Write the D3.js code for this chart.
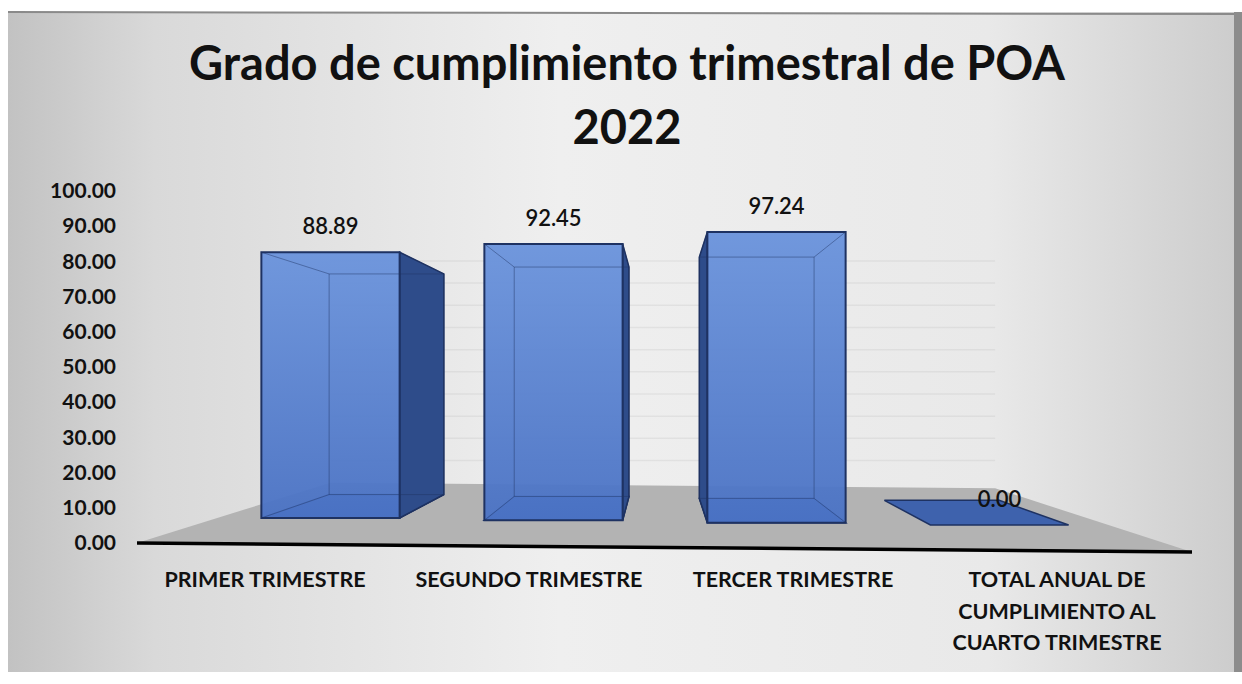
<!DOCTYPE html>
<html>
<head>
<meta charset="utf-8">
<script src="https://cdn.jsdelivr.net/npm/d3@7"></script>
<style>
  html, body { margin: 0; padding: 0; background: #fff; }
  svg { display: block; }
  text { font-family: Lato, "Open Sans", sans-serif; fill: #111; }
</style>
</head>
<body>
<div id="chart"></div>
<script>
const categories = ["PRIMER TRIMESTRE", "SEGUNDO TRIMESTRE", "TERCER TRIMESTRE", "TOTAL ANUAL"];
const categoryLines = [
    ["PRIMER TRIMESTRE"],
    ["SEGUNDO TRIMESTRE"],
    ["TERCER TRIMESTRE"],
    ["TOTAL ANUAL DE", "CUMPLIMIENTO AL", "CUARTO TRIMESTRE"]
];
const values = [88.89, 92.45, 97.24, 0.00];
const yTicks = [0, 10, 20, 30, 40, 50, 60, 70, 80, 90, 100];
const titleLines = ["Grado de cumplimiento trimestral de POA", "2022"];

function drawChart() {
    const W = 1242, H = 684;
    const VP = { x: 660, y: 380 };   // vanishing point of the photo perspective
    const DEPTH = 0.17;              // bar depth toward VP
    const WALL = 0.37;               // floor / back wall depth

    const svg = d3.select("#chart").append("svg")
        .attr("width", W).attr("height", H);

    const defs = svg.append("defs");
    const bg = defs.append("linearGradient").attr("id", "bg");
    [["0%", "#c2c2c2"], ["12%", "#d9d9d9"], ["45%", "#efefef"], ["80%", "#e9e9e9"], ["100%", "#cdcdcd"]]
        .forEach(([o, c]) => bg.append("stop").attr("offset", o).attr("stop-color", c));
    const barGrad = defs.append("linearGradient").attr("id", "barFront")
        .attr("x1", 0).attr("y1", 0).attr("x2", 0).attr("y2", 1);
    barGrad.append("stop").attr("offset", "0%").attr("stop-color", "#6a93dc");
    barGrad.append("stop").attr("offset", "100%").attr("stop-color", "#4a72c4");

    // photographed sheet
    svg.append("rect").attr("x", 8).attr("y", 12).attr("width", 1226).attr("height", 660)
        .attr("fill", "url(#bg)");
    svg.append("line").attr("x1", 8).attr("x2", 1234).attr("y1", 12).attr("y2", 14)
        .attr("stroke", "#8a8a8a").attr("stroke-width", 2);
    svg.append("rect").attr("x", 1234).attr("y", 12).attr("width", 8).attr("height", 660)
        .attr("fill", "#8c8c8c");

    const project = (p, k) => [p[0] + (VP.x - p[0]) * k, p[1] + (VP.y - p[1]) * k];

    // scales
    const y = d3.scaleLinear().domain([0, 100]).range([543, 191]);
    const barH = d3.scaleLinear().domain([0, 100]).range([0, 299]);
    const xBar = d3.scaleBand().domain(categories).range([219, 1111])
        .paddingInner(0.38).paddingOuter(0.19);
    const xLabel = d3.scaleBand().domain(categories).range([133, 1189]);
    const base = d3.scaleLinear().domain([262, 932]).range([518, 525]);
    const floorY = d3.scaleLinear().domain([137, 1192]).range([543, 552]);

    // floor
    const fl = [137, floorY(137)], fr = [1192, floorY(1192)];
    svg.append("polygon")
        .attr("points", [fl, fr, project(fr, WALL), project(fl, WALL)].map(p => p.join(",")).join(" "))
        .attr("fill", "#b3b3b3");

    // faint gridlines on back wall
    svg.append("g").selectAll("line")
        .data(yTicks.filter(v => v > 0))
        .join("line")
        .attr("x1", d => project([137, y(d)], WALL)[0])
        .attr("x2", d => project([1192, y(d)], WALL)[0])
        .attr("y1", d => project([137, y(d)], WALL)[1])
        .attr("y2", d => project([1192, y(d)], WALL)[1])
        .attr("stroke", "#000").attr("stroke-opacity", 0.05).attr("stroke-width", 1.5);

    // axis line
    svg.append("line").attr("x1", fl[0]).attr("y1", fl[1]).attr("x2", fr[0]).attr("y2", fr[1])
        .attr("stroke", "#000").attr("stroke-width", 3.5);

    // bars
    const bars = categories.map((c, i) => {
        const x0 = xBar(c), x1 = x0 + xBar.bandwidth();
        const yb = base(x0), yt = yb - barH(values[i]);
        const f = { tl: [x0, yt], tr: [x1, yt], br: [x1, yb], bl: [x0, yb] };
        const b = {};
        Object.keys(f).forEach(k => b[k] = project(f[k], DEPTH));
        return { c, v: values[i], x0, x1, yb, yt, f, b };
    });
    const pts = arr => arr.map(p => p.join(",")).join(" ");
    const edge = "#1e3262";

    const g = svg.append("g");
    bars.forEach(d => {
        // bottom face
        g.append("polygon").attr("points", pts([d.f.bl, d.f.br, d.b.br, d.b.bl]))
            .attr("fill", "#3e62ad").attr("stroke", edge).attr("stroke-width", 1.5);
        if (d.v === 0) return;
        // visible side
        const side = (d.x0 + d.x1) / 2 < VP.x
            ? [d.f.tr, d.b.tr, d.b.br, d.f.br]
            : [d.f.tl, d.b.tl, d.b.bl, d.f.bl];
        g.append("polygon").attr("points", pts(side))
            .attr("fill", "#2e4c8a").attr("stroke", edge).attr("stroke-width", 1.5);
        // front face
        g.append("polygon").attr("points", pts([d.f.tl, d.f.tr, d.f.br, d.f.bl]))
            .attr("fill", "url(#barFront)").attr("fill-opacity", 0.95)
            .attr("stroke", edge).attr("stroke-width", 2);
        // back edges seen through the front
        const inner = [[d.b.tl, d.b.tr], [d.b.tr, d.b.br], [d.b.br, d.b.bl], [d.b.bl, d.b.tl],
            [d.f.tl, d.b.tl], [d.f.tr, d.b.tr], [d.f.bl, d.b.bl], [d.f.br, d.b.br]];
        g.selectAll(null).data(inner).join("line")
            .attr("x1", e => e[0][0]).attr("y1", e => e[0][1])
            .attr("x2", e => e[1][0]).attr("y2", e => e[1][1])
            .attr("stroke", edge).attr("stroke-opacity", 0.45).attr("stroke-width", 1);
    });

    // value labels
    svg.append("g").selectAll("text")
        .data(bars)
        .join("text")
        .attr("x", d => (d.x0 + d.x1) / 2)
        .attr("y", d => d.yt - 26)
        .attr("dy", "0.35em")
        .attr("text-anchor", "middle")
        .style("font-size", "22px")
        .style("font-weight", 600)
        .text(d => d.v.toFixed(2));

    // y axis
    const yAxis = d3.axisLeft(y).tickValues(yTicks).tickFormat(d3.format(".2f")).tickSize(0).tickPadding(0);
    const ax = svg.append("g").attr("transform", "translate(116,0)").call(yAxis);
    ax.select(".domain").remove();
    ax.selectAll("text")
        .style("font-family", "Lato, sans-serif")
        .style("font-size", "21px")
        .style("font-weight", 700)
        .attr("fill", "#111");

    // category labels
    const cl = svg.append("g").selectAll("text")
        .data(categories)
        .join("text")
        .attr("x", c => xLabel(c) + xLabel.bandwidth() / 2)
        .attr("y", 587)
        .attr("text-anchor", "middle")
        .style("font-size", "21.5px")
        .style("font-weight", 700);
    cl.selectAll("tspan")
        .data((c, i) => categoryLines[i])
        .join("tspan")
        .attr("x", function () { return d3.select(this.parentNode).attr("x"); })
        .attr("dy", (t, j) => j === 0 ? 0 : 31.5)
        .text(t => t);

    // title
    svg.append("g").selectAll("text")
        .data(titleLines)
        .join("text")
        .attr("x", 627)
        .attr("y", (t, i) => 80 + i * 64)
        .attr("text-anchor", "middle")
        .style("font-size", "47px")
        .style("font-weight", 700)
        .text(t => t);
}

drawChart();
</script>
</body>
</html>
